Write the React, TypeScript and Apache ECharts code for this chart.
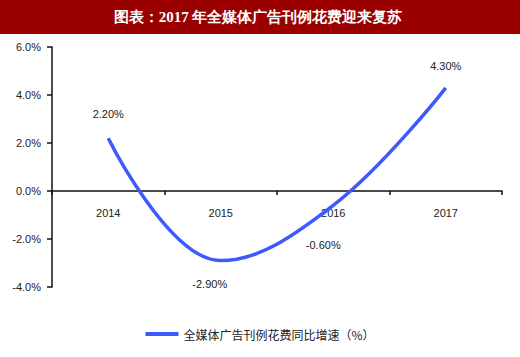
import React, { useEffect, useRef } from "react";
import * as echarts from "echarts";

const titleText = "图表：2017 年全媒体广告刊例花费迎来复苏";
const seriesName = "全媒体广告刊例花费同比增速（%）";
const categories = ["2014", "2015", "2016", "2017"];
const values = [2.2, -2.9, -0.6, 4.3];
const valueLabels = ["2.20%", "-2.90%", "-0.60%", "4.30%"];

export default function App() {
  const ref = useRef<HTMLDivElement>(null);
  useEffect(() => {
    const chart = echarts.init(ref.current!, null, { renderer: "svg" });
    const labelCfg = [
      { position: "top", distance: 19, offset: [0, 0] },
      { position: "bottom", distance: 18, offset: [-11, 0] },
      { position: "bottom", distance: 34, offset: [-10, 0] },
      { position: "top", distance: 16, offset: [0, 0] },
    ];
    chart.setOption({
      animation: false,
      backgroundColor: "#ffffff",
      graphic: [
        {
          type: "rect",
          shape: { x: 0, y: 0, width: 520, height: 34 },
          style: { fill: "#9a0000" },
          silent: true,
        },
        {
          type: "text",
          x: 258,
          y: 17,
          style: {
            text: titleText,
            fill: "#ffffff",
            font: "bold 15px serif",
            textAlign: "center",
            textVerticalAlign: "middle",
          },
        },
      ],
      grid: { left: 52, right: 18, top: 47, bottom: 70 },
      legend: {
        bottom: 12,
        left: "center",
        icon: "rect",
        itemWidth: 33,
        itemHeight: 4,
        itemGap: 4,
        textStyle: { fontSize: 12, color: "#222", fontFamily: "Noto Sans CJK SC" },
        data: [seriesName],
      },
      xAxis: {
        type: "category",
        data: categories,
        boundaryGap: true,
        offset: -96,
        axisLine: { onZero: false, lineStyle: { color: "#111", width: 1.5 } },
        axisTick: { show: true, inside: false, length: 4, lineStyle: { color: "#111", width: 1.5 } },
        axisLabel: { margin: 16, color: "#222", fontSize: 11, fontFamily: "Liberation Sans" },
      },
      yAxis: {
        type: "value",
        min: -4,
        max: 6,
        interval: 2,
        axisLine: { show: true, lineStyle: { color: "#111", width: 1.5 } },
        axisTick: { show: true, length: 5, lineStyle: { color: "#111", width: 1.5 } },
        splitLine: { show: false },
        axisLabel: {
          margin: 11,
          color: "#222",
          fontSize: 11,
          fontFamily: "Liberation Sans",
          formatter: (v: number) => v.toFixed(1) + "%",
        },
      },
      series: [
        {
          name: seriesName,
          type: "line",
          smooth: 0.4,
          symbol: "circle",
          symbolSize: 0.1,
          showSymbol: true,
          itemStyle: { color: "#3d5afe" },
          lineStyle: { color: "#3d5afe", width: 3.5 },
          data: values.map((v, i) => ({
            value: v,
            label: {
              show: true,
              position: labelCfg[i].position,
              distance: labelCfg[i].distance,
              offset: labelCfg[i].offset,
              formatter: valueLabels[i],
              color: "#222",
              fontSize: 11,
              fontFamily: "Liberation Sans",
            },
          })),
        },
      ],
    });
    return () => chart.dispose();
  }, []);
  return <div ref={ref} style={{ width: 520, height: 357, position: "absolute", left: 0, top: 0 }} />;
}
